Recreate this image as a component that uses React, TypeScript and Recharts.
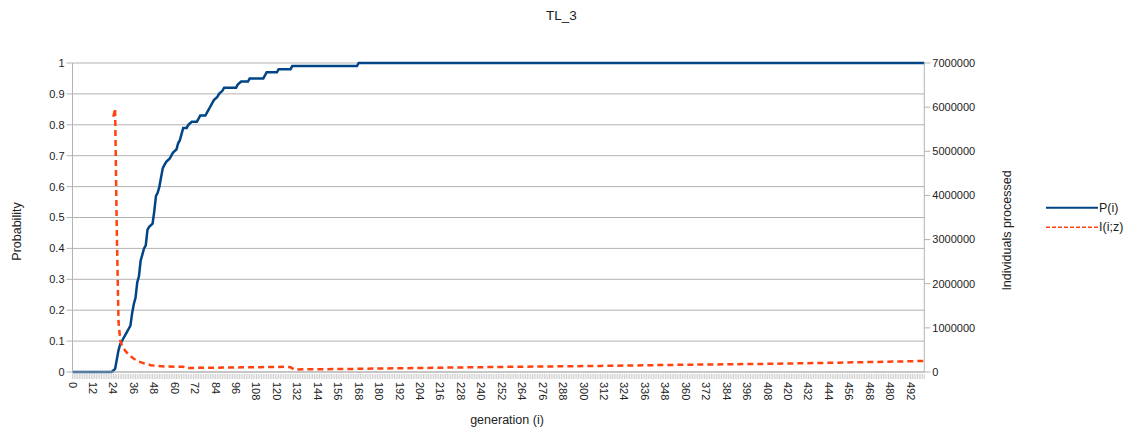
import { LineChart, Line, XAxis, YAxis, CartesianGrid, Label } from 'recharts'

const TITLE = 'TL_3'
const SERIES_NAMES = ['P(i)', 'I(i;z)']
const COLORS = ['#004586', '#ff420e']

// P(i): probability per generation
const P_GEN = [
  0, 23, 25, 27, 28, 30, 32, 33, 34, 35, 36, 37, 38, 39, 40, 41, 42, 43, 44, 45, 47, 48, 49, 50,
  51, 52, 53, 54, 55, 57, 58, 59, 61, 62, 63, 64, 65, 67, 68, 70, 73, 74, 75, 78, 79, 80, 81, 82,
  83, 85, 86, 88, 89, 96, 97, 99, 103, 104, 112, 114, 120, 121, 128, 129, 167, 168, 500,
]
const P_VAL = [
  0, 0, 0.01, 0.07, 0.09, 0.11, 0.13, 0.14, 0.15, 0.19, 0.22, 0.24, 0.29, 0.31, 0.36, 0.38, 0.4,
  0.41, 0.46, 0.47, 0.48, 0.52, 0.57, 0.58, 0.6, 0.63, 0.66, 0.67, 0.68, 0.69, 0.7, 0.71, 0.72,
  0.74, 0.75, 0.77, 0.79, 0.79, 0.8, 0.81, 0.81, 0.82, 0.83, 0.83, 0.84, 0.85, 0.86, 0.87, 0.88,
  0.89, 0.9, 0.91, 0.92, 0.92, 0.93, 0.94, 0.94, 0.95, 0.95, 0.97, 0.97, 0.98, 0.98, 0.99, 0.99,
  1, 1,
]

// I(i;z): individuals processed
const I_GEN = [
  24, 25, 26, 27, 28, 29, 31, 33, 36, 39, 42, 46, 50, 55, 60, 65, 66, 70, 80, 90, 100, 110, 120,
  126, 128, 130, 160, 212, 251, 310, 360, 404, 450, 500,
]
const I_VAL = [
  5780000, 5970000, 3200000, 1150000, 720000, 600000, 480000, 390000, 300000, 235000, 195000,
  155000, 135000, 125000, 120000, 118000, 90000, 92000, 97000, 100000, 105000, 110000, 115000,
  118000, 110000, 58000, 68000, 95000, 115000, 138000, 165000, 183000, 212000, 250000,
]

const GEN_MAX = 500
const GEN_TICKS = Array.from({ length: GEN_MAX + 1 }, (_, g) => g)
const PROB_TICKS = [0, 0.1, 0.2, 0.3, 0.4, 0.5, 0.6, 0.7, 0.8, 0.9, 1]
const COUNT_TICKS = [0, 1000000, 2000000, 3000000, 4000000, 5000000, 6000000, 7000000]

const pData = P_GEN.map((g, i) => ({ g, p: P_VAL[i] }))
const iData = I_GEN.map((g, i) => ({ g, v: I_VAL[i] }))

const FONT = '"Liberation Sans", Arial, sans-serif'
const GRID = '#b3b3b3'
const TEXT = '#222'

function GenTick({ x, y, payload }: any) {
  const g = payload.value
  return (
    <g>
      <line x1={x} x2={x} y1={y} y2={y + 5} stroke="#c4c4c4" strokeWidth={0.8} />
      {g % 12 === 0 && (
        <text
          transform={`translate(${x},${y + 8}) rotate(90)`}
          textAnchor="start"
          dominantBaseline="central"
          fontSize={11}
          fontFamily={FONT}
          fill={TEXT}
        >
          {g}
        </text>
      )}
    </g>
  )
}

function AxisTitle({ x, y, angle, text }: { x: number; y: number; angle: number; text: string }) {
  return (
    <text
      transform={`translate(${x},${y}) rotate(${angle})`}
      textAnchor="middle"
      dominantBaseline="central"
      fontSize={12.5}
      fontFamily={FONT}
      fill={TEXT}
    >
      {text}
    </text>
  )
}

export default function App() {
  const tickStyle = { fontSize: 11, fontFamily: FONT, fill: TEXT }
  return (
    <div style={{ position: 'absolute', left: 0, top: 0, width: 1127, height: 432, background: '#fff' }}>
      <LineChart width={1127} height={432} margin={{ top: 63, right: 102.7, bottom: 0, left: 12.5 }}>
        <CartesianGrid yAxisId="left" vertical={false} stroke={GRID} strokeWidth={1} />
        <XAxis
          dataKey="g"
          type="number"
          domain={[0, GEN_MAX]}
          ticks={GEN_TICKS}
          interval={0}
          height={60}
          tickSize={0}
          tickLine={false}
          axisLine={{ stroke: GRID }}
          tick={<GenTick />}
        >
          <Label
            content={({ viewBox }: any) => (
              <AxisTitle x={viewBox.x + viewBox.width / 2 + 8.6} y={viewBox.y + 48} angle={0} text="generation (i)" />
            )}
          />
        </XAxis>
        <YAxis
          yAxisId="left"
          width={60}
          domain={[0, 1]}
          ticks={PROB_TICKS}
          tickSize={6}
          tickMargin={2}
          tickLine={{ stroke: GRID }}
          axisLine={{ stroke: GRID }}
          tick={tickStyle}
        >
          <Label
            content={({ viewBox }: any) => (
              <AxisTitle x={viewBox.x + 4.2} y={viewBox.y + viewBox.height / 2 + 14} angle={-90} text="Probability" />
            )}
          />
        </YAxis>
        <YAxis
          yAxisId="right"
          orientation="right"
          width={100}
          domain={[0, 7000000]}
          ticks={COUNT_TICKS}
          tickSize={6}
          tickMargin={2}
          tickLine={{ stroke: GRID }}
          axisLine={{ stroke: GRID }}
          tick={tickStyle}
        >
          <Label
            content={({ viewBox }: any) => (
              <AxisTitle
                x={viewBox.x + 82.4}
                y={viewBox.y + viewBox.height / 2 + 13}
                angle={-90}
                text="Individuals processed"
              />
            )}
          />
        </YAxis>
        <Line
          yAxisId="left"
          data={pData}
          dataKey="p"
          name={SERIES_NAMES[0]}
          type="linear"
          stroke={COLORS[0]}
          strokeWidth={2.5}
          dot={false}
          isAnimationActive={false}
        />
        <Line
          yAxisId="right"
          data={iData}
          dataKey="v"
          name={SERIES_NAMES[1]}
          type="linear"
          stroke={COLORS[1]}
          strokeWidth={2.5}
          strokeDasharray="6 4"
          dot={false}
          isAnimationActive={false}
        />
      </LineChart>
      <svg width={1127} height={432} style={{ position: 'absolute', left: 0, top: 0, pointerEvents: 'none' }}>
        <text x={561.5} y={15} textAnchor="middle" dominantBaseline="central" fontSize={13.5} fontFamily={FONT} fill={TEXT}>
          {TITLE}
        </text>
        {SERIES_NAMES.map((name, i) => (
          <g key={name} transform={`translate(1046,${207.7 + i * 19.6})`}>
            <line
              x1={0}
              x2={52}
              y1={0}
              y2={0}
              stroke={COLORS[i]}
              strokeWidth={i === 0 ? 2 : 1.6}
              strokeDasharray={i === 0 ? undefined : '4 2'}
            />
            <text x={53} y={0} dominantBaseline="central" fontSize={12.5} fontFamily={FONT} fill={TEXT}>
              {name}
            </text>
          </g>
        ))}
      </svg>
    </div>
  )
}
